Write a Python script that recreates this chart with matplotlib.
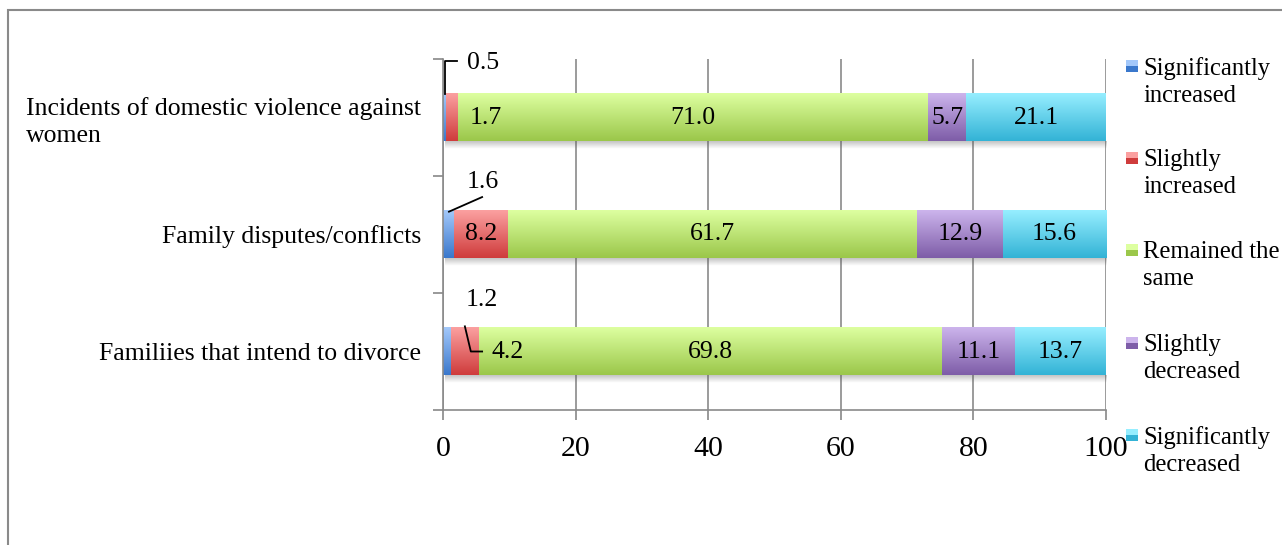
import numpy as np
import matplotlib
matplotlib.use('Agg')
import matplotlib.pyplot as plt
from matplotlib.colors import LinearSegmentedColormap
from matplotlib.patches import Rectangle

# data
categories = ['Incidents of domestic violence against\nwomen',
              'Family disputes/conflicts',
              'Familiies that intend to divorce']
series = ['Significantly\nincreased', 'Slightly\nincreased', 'Remained the\nsame',
          'Slightly\ndecreased', 'Significantly\ndecreased']
sig_inc = [0.5, 1.6, 1.2]
sli_inc = [1.7, 8.2, 4.2]
same = [71.0, 61.7, 69.8]
sli_dec = [5.7, 12.9, 11.1]
sig_dec = [21.1, 15.6, 13.7]
values = [sig_inc, sli_inc, same, sli_dec, sig_dec]

# gradient colours (top, bottom)
grads = [('#a3c8fa', '#3a78cc'), ('#fba0a0', '#cf3c3c'), ('#ddffa0', '#9bc74a'),
         ('#ccb4ec', '#7e5da8'), ('#96eeff', '#33b3d6')]

plt.rcParams['font.family'] = ['Liberation Serif', 'DejaVu Serif']
fig = plt.figure(figsize=(12.82, 5.45), dpi=100)
W, H = 1282, 545
ax = fig.add_axes([443 / W, 1 - 410 / H, (1106 - 443) / W, (410 - 59) / H])

y = np.arange(len(categories))
bh = 0.41
left = np.zeros(len(categories))

# soft shadow under each row
shade = np.zeros((16, 1, 4))
shade[..., :3] = 0.35
shade[:, 0, 3] = np.linspace(0.35, 0.0, 16)
for yi in y:
    ax.imshow(shade, extent=[0.3, 100.3, yi + bh / 2 + 0.06, yi + bh / 2],
              origin='upper', aspect='auto', zorder=1.5, interpolation='bilinear')

grad = np.linspace(0, 1, 64).reshape(-1, 1)
for vals, (ct, cb) in zip(values, grads):
    vals = np.array(vals)
    bars = ax.barh(y, vals, left=left, height=bh, color=cb, zorder=2)
    cmap = LinearSegmentedColormap.from_list('g', [ct, cb])
    for p in bars:
        x0, y0 = p.get_x(), p.get_y()
        ax.imshow(grad, extent=[x0, x0 + p.get_width(), y0 + p.get_height(), y0],
                  origin='upper', cmap=cmap, aspect='auto', zorder=2.1,
                  interpolation='bilinear')
    left = left + vals

# data labels
fs_lab = 18.5
cum = np.cumsum(np.array(values), axis=0)
for s in range(2, 5):
    for r in range(len(categories)):
        xc = cum[s, r] - values[s][r] / 2
        ax.text(xc, r, f'{values[s][r]:.1f}', ha='center', va='center', fontsize=fs_lab, zorder=3)
# second row red fits inside
ax.text(cum[1, 1] - values[1][1] / 2, 1, f'{values[1][1]:.1f}', ha='center', va='center',
        fontsize=fs_lab, zorder=3)
# small segments with offset labels / leader lines
ax.text(3.6, -0.47, f'{values[0][0]:.1f}', ha='left', va='center', fontsize=fs_lab)
ax.plot([0.25, 0.25, 2.1], [-bh / 2, -0.48, -0.48], color='black', lw=1.3, zorder=3)
ax.text(4.0, 0, f'{values[1][0]:.1f}', ha='left', va='center', fontsize=fs_lab, zorder=3)
ax.text(6.0, 0.55, f'{values[0][1]:.1f}', ha='center', va='center', fontsize=fs_lab)
ax.plot([0.9, 5.9], [1 - bh / 2 + 0.01, 0.68], color='black', lw=1.3, zorder=3)
ax.text(5.9, 1.56, f'{values[0][2]:.1f}', ha='center', va='center', fontsize=fs_lab)
ax.text(7.3, 2, f'{values[1][2]:.1f}', ha='left', va='center', fontsize=fs_lab, zorder=3)
ax.plot([3.3, 4.2, 5.9], [2 - bh / 2 - 0.01, 2.0, 2.0], color='black', lw=1.3, zorder=3)

# axes formatting
ax.set_xlim(0, 100)
ax.set_ylim(2.5, -0.5)
ax.set_xticks(np.arange(0, 101, 20))
ax.tick_params(axis='x', labelsize=21.5, length=7, width=1.2, color='#888888', pad=12)
ax.set_yticks(y)
ax.set_yticklabels(categories, fontsize=18.5, multialignment='left', linespacing=1.25)
ax.set_yticks([-0.5, 0.5, 1.5, 2.5], minor=True)
ax.tick_params(axis='y', which='major', length=0, pad=16)
ax.tick_params(axis='y', which='minor', length=7, width=1.2, color='#888888')
ax.grid(axis='x', color='#8a8a8a', lw=1.2, zorder=0)
ax.set_axisbelow(True)
for sp in ['top', 'right']:
    ax.spines[sp].set_visible(False)
for sp in ['left', 'bottom']:
    ax.spines[sp].set_color('#8a8a8a')
    ax.spines[sp].set_linewidth(1.2)

# legend (marker aligned to first line, Excel style)
leg_y = [66, 158, 250, 343, 435]
for lab, (ct, cb), ly in zip(series, grads, leg_y):
    fig.patches.append(Rectangle(((1126) / W, 1 - (ly + 6) / H), 12 / W, 12 / H,
                                 transform=fig.transFigure, facecolor=cb, edgecolor='none'))
    fig.patches.append(Rectangle(((1126) / W, 1 - (ly) / H), 12 / W, 6 / H,
                                 transform=fig.transFigure, facecolor=ct, edgecolor='none'))
    fig.text(1143 / W, 1 - (ly - 9) / H, lab, fontsize=17.7, va='top', ha='left',
             linespacing=1.3)

# chart frame
fig.patches.append(Rectangle((8 / W, -0.1), 1.2, 1 - 10 / H + 0.1, transform=fig.transFigure,
                             facecolor='none', edgecolor='#8a8a8a', lw=1.5))

fig.savefig('out.png', dpi=100)
